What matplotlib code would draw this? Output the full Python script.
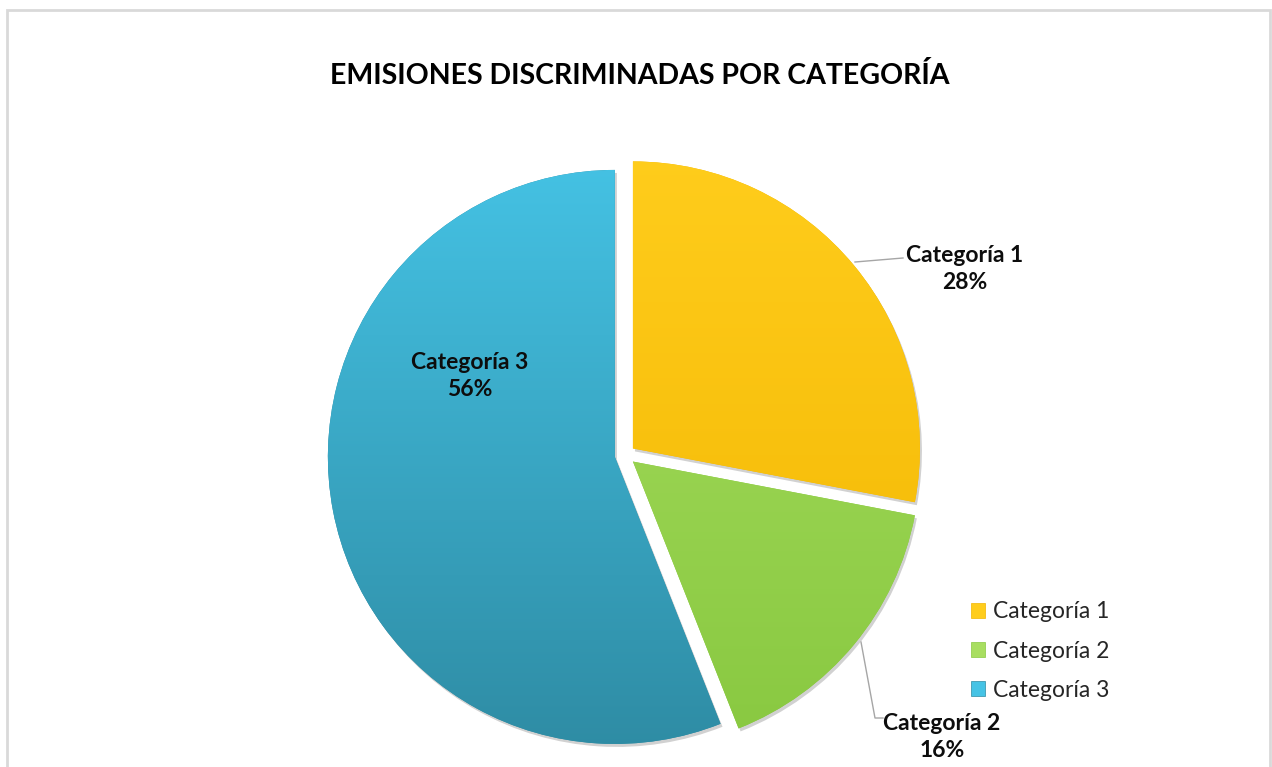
import matplotlib
matplotlib.use('Agg')
import matplotlib.pyplot as plt
import numpy as np
from matplotlib.colors import LinearSegmentedColormap
from matplotlib.patches import Rectangle, Patch, Wedge

plt.rcParams['font.family'] = ['Lato', 'DejaVu Sans']

# Datos
categorias = ['Categoría 1', 'Categoría 2', 'Categoría 3']
valores = [28, 16, 56]
titulo = 'EMISIONES DISCRIMINADAS POR CATEGORÍA'

# colores degradados (arriba, abajo)
colores = [('#FFCD1C', '#F2B500'), ('#A8DE60', '#88C840'), ('#45C3E5', '#2E8BA3')]

W, H = 1272, 767
fig = plt.figure(figsize=(W / 100, H / 100), dpi=100)
ax = fig.add_axes([0, 0, 1, 1])

cx, cy, r = 625, H - 455, 287
wedges, _ = ax.pie(valores, startangle=90, counterclock=False,
                   center=(cx, cy), radius=r, explode=[10.3] * 3,
                   colors=[c[1] for c in colores],
                   wedgeprops=dict(linewidth=0))

# sombra y degradado de cada porción
grad = np.linspace(0, 1, 256).reshape(-1, 1)
for w, (c_top, c_bot) in zip(wedges, colores):
    sombra = Wedge((w.center[0] + 2, w.center[1] - 3), w.r, w.theta1, w.theta2,
                   color='#000000', alpha=0.18, lw=0, zorder=0.5)
    ax.add_patch(sombra)
    w.set_zorder(1)
    cmap = LinearSegmentedColormap.from_list('g', [c_top, c_bot])
    im = ax.imshow(grad, cmap=cmap, aspect='auto', origin='upper',
                   extent=(cx - r - 20, cx + r + 20, cy - r - 20, cy + r + 20),
                   zorder=1.5)
    im.set_clip_path(w)

ax.set_xlim(0, W)
ax.set_ylim(0, H)
ax.set_aspect('equal')
ax.axis('off')

# marco del gráfico
ax.add_patch(Rectangle((7, -10), 1263, H, fill=False,
                       edgecolor='#D9D9D9', linewidth=2, zorder=5))

ax.text(640, H - 76, titulo, ha='center', va='center', fontsize=20.5,
        fontweight='bold', color='#000000')

# etiquetas de datos
etiq = ['{}\n{}%'.format(c, v) for c, v in zip(categorias, valores)]
kw = dict(ha='center', va='center', fontsize=16.5, fontweight='bold',
          linespacing=1.3, zorder=6, color='#0D0D0D')
ax.text(965, H - 269, etiq[0], **kw)
ax.plot([855, 903], [H - 262, H - 258], color='#A6A6A6', lw=1, zorder=6)

ax.text(942, H - 737, etiq[1], **kw)
ax.plot([861, 875, 883], [H - 642, H - 718, H - 718], color='#A6A6A6',
        lw=1, zorder=6)

ax.text(470, H - 376, etiq[2], **kw)

# leyenda
handles = [Patch(facecolor=c[0], edgecolor=c[1], lw=0.5) for c in colores]
leg = ax.legend(handles, categorias, loc='upper left',
                bbox_to_anchor=(962 / W, 1 - 592 / H),
                frameon=False, fontsize=16.5, handlelength=0.62, handleheight=0.62,
                handletextpad=0.35, labelspacing=0.8, borderaxespad=0)
for t in leg.get_texts():
    t.set_color('#262626')

fig.savefig('out.png', dpi=100)
